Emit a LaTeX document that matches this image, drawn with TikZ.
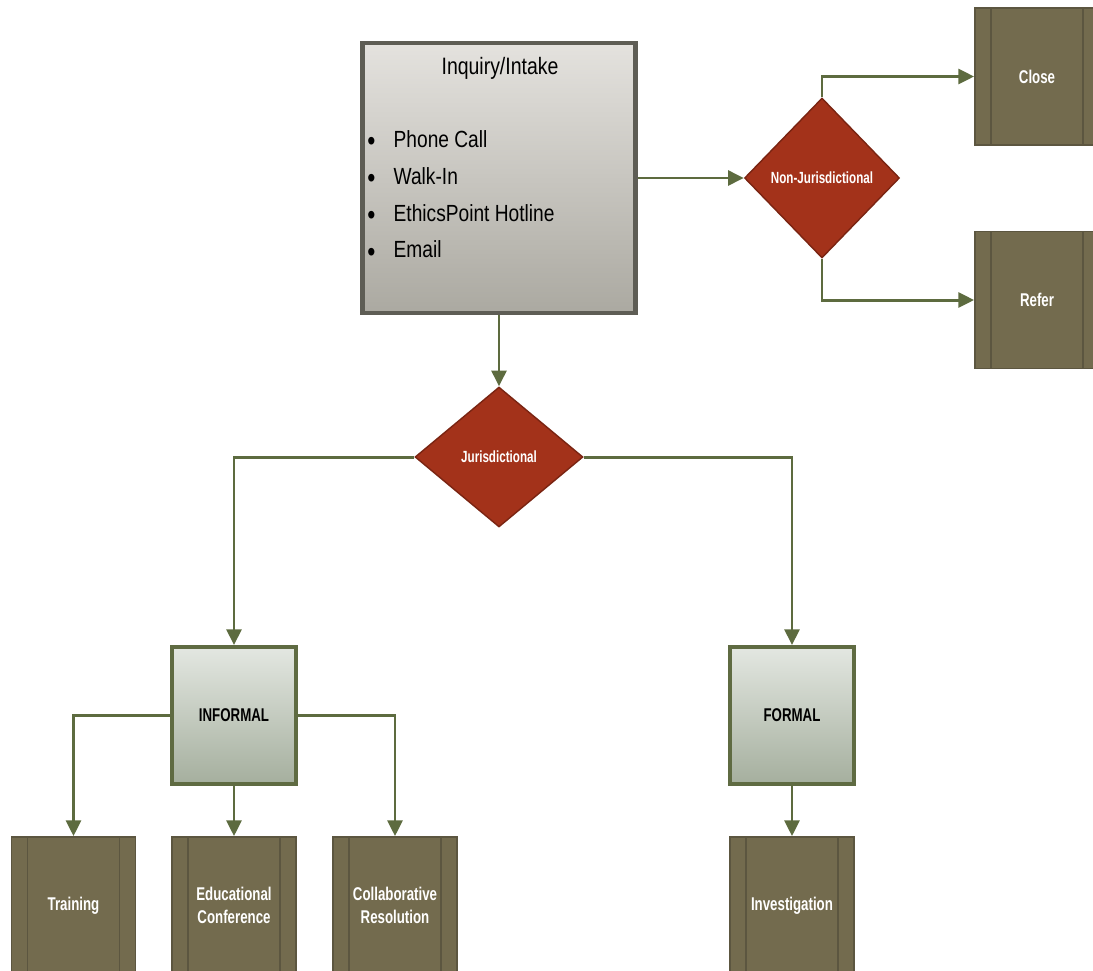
\documentclass[tikz,border=0pt]{standalone}
\usepackage{fontspec}
\setmainfont{Liberation Sans}
\newfontfamily\narrowfont[FakeStretch=0.72]{Liberation Sans}
\newfontfamily\bodyfont[FakeStretch=0.82]{Liberation Sans}
\usetikzlibrary{shapes.geometric,arrows.meta,positioning,calc}

\definecolor{procfill}{HTML}{736B4E}
\definecolor{procline}{HTML}{5C5640}
\definecolor{decfill}{HTML}{A3321A}
\definecolor{decline}{HTML}{7A2412}
\definecolor{flowgreen}{HTML}{5D6B3F}
\definecolor{intakeline}{HTML}{5E5D55}
\definecolor{intaketop}{HTML}{E4E2DE}
\definecolor{intakebot}{HTML}{ABA9A1}
\definecolor{typeline}{HTML}{5F6B42}
\definecolor{typetop}{HTML}{E3E7E1}
\definecolor{typebot}{HTML}{A5AF9E}

\newcommand{\listdot}{\makebox[15pt][l]{\raisebox{-2pt}{\fontsize{16}{16}\selectfont\textbullet}}}

\begin{document}
\begin{tikzpicture}[x=0.02cm, y=-0.02cm,
    flow/.style={draw=flowgreen, line width=1.7pt, -{Triangle[length=9pt,width=8.5pt]}},
    procbox/.style={rectangle, draw=procline, line width=1pt, fill=procfill,
        minimum width=2.48cm, minimum height=2.74cm, inner sep=0pt,
        text=white, align=center,
        font=\narrowfont\bfseries\fontsize{10.5}{13}\selectfont,
        path picture={
            \draw[procline, line width=1pt]
                ([xshift=0.32cm]path picture bounding box.north west) --
                ([xshift=0.32cm]path picture bounding box.south west);
            \draw[procline, line width=1pt]
                ([xshift=-0.32cm]path picture bounding box.north east) --
                ([xshift=-0.32cm]path picture bounding box.south east);
        }},
    decision/.style={diamond, draw=decline, line width=0.8pt, fill=decfill,
        aspect=1, inner sep=0pt, text=white,
        font=\narrowfont\bfseries\fontsize{9.2}{11}\selectfont},
    typebox/.style={rectangle, draw=typeline, line width=2.2pt,
        top color=typetop, bottom color=typebot,
        minimum width=2.48cm, minimum height=2.74cm, inner sep=0pt,
        font=\narrowfont\bfseries\fontsize{10.5}{13}\selectfont}]

    \useasboundingbox (0,0) rectangle (1093,971);
    \clip (0,0) rectangle (1093,971);

    % Intake
    \node [rectangle, draw=intakeline, line width=2.4pt,
        top color=intaketop, bottom color=intakebot,
        minimum width=5.46cm, minimum height=5.4cm] (intake) at (499,178) {};
    \node [font=\bodyfont\fontsize{13.5}{16}\selectfont] (intaketitle) at (500,68) {Inquiry/Intake};
    \node [anchor=north west, inner sep=0pt, align=left,
        font=\bodyfont\fontsize{13.3}{21}\selectfont] (intakelist) at (367,130)
        {\listdot Phone Call\\
         \listdot Walk-In\\
         \listdot EthicsPoint Hotline\\
         \listdot Email};

    % Decisions
    \node [decision, minimum width=3.1cm, minimum height=3.2cm] (nonjur) at (822,178) {Non-Jurisdictional};
    \node [decision, minimum width=3.36cm, minimum height=2.8cm] (juris) at (499,457) {Jurisdictional};

    % Outcomes
    \node [procbox] (close) at (1037,76.5) {Close};
    \node [procbox] (refer) at (1037,300) {Refer};
    \node [typebox] (informal) at (234,715.5) {INFORMAL};
    \node [typebox] (formal) at (792,715.5) {FORMAL};
    \node [procbox] (training) at (73.5,905.5) {Training};
    \node [procbox] (educ) at (234,905.5) {Educational\\Conference};
    \node [procbox] (collab) at (395,905.5) {Collaborative\\Resolution};
    \node [procbox] (invest) at (792,905.5) {Investigation};

    % Connectors
    \draw [flow] (intake.east) -- (nonjur.west);
    \draw [flow] (nonjur.north) |- (close.west);
    \draw [flow] (nonjur.south) |- (refer.west);
    \draw [flow] (intake.south) -- (juris.north);
    \draw [flow] (juris.west) -| (informal.north);
    \draw [flow] (juris.east) -| (formal.north);
    \draw [flow] (informal.west) -| (training.north);
    \draw [flow] (informal.south) -- (educ.north);
    \draw [flow] (informal.east) -| (collab.north);
    \draw [flow] (formal.south) -- (invest.north);
\end{tikzpicture}
\end{document}
